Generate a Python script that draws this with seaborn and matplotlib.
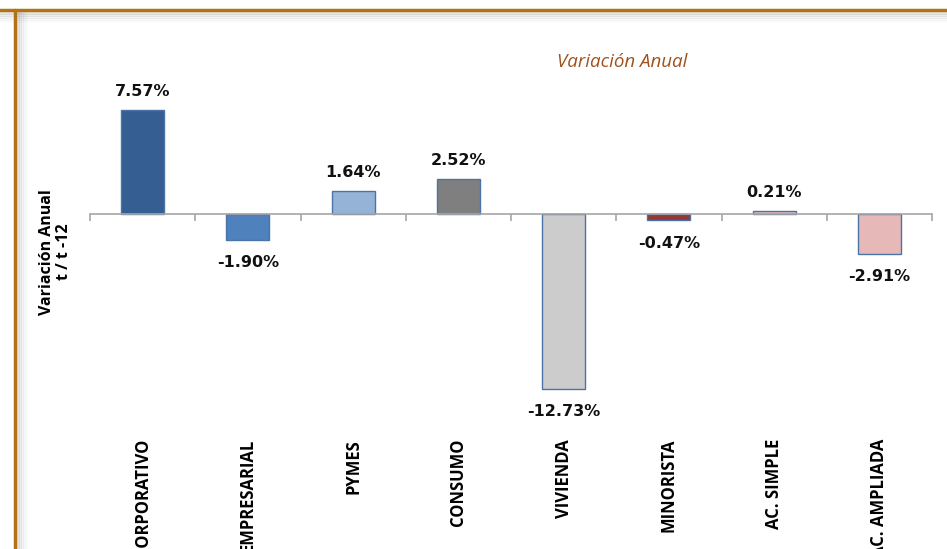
import matplotlib
matplotlib.use("Agg")
import matplotlib.pyplot as plt
from matplotlib.lines import Line2D
import seaborn as sns

# Data
categories = ["CORPORATIVO", "EMPRESARIAL", "PYMES", "CONSUMO",
              "VIVIENDA", "MINORISTA", "AC. SIMPLE", "AC. AMPLIADA"]
values = [7.57, -1.90, 1.64, 2.52, -12.73, -0.47, 0.21, -2.91]
bar_colors = ["#355F92", "#4F81BD", "#95B3D7", "#7F7F7F",
              "#CCCCCC", "#953735", "#E6B9B8", "#E6B9B8"]

sns.set_style("white")
plt.rcParams["font.family"] = ["DejaVu Sans"]
plt.rcParams["text.color"] = "black"
plt.rcParams["axes.labelcolor"] = "black"
plt.rcParams["xtick.labelcolor"] = "black"

fig = plt.figure(figsize=(9.47, 5.49), dpi=100)
ax = fig.add_axes([90 / 947, 129 / 549, 842 / 947, 340 / 549])

sns.barplot(x=categories, y=values, hue=categories, palette=bar_colors,
            legend=False, width=0.41, edgecolor="#4A74A6", linewidth=1.0,
            saturation=1, ax=ax)

ax.set_xlim(-0.5, len(categories) - 0.5)
ax.set_ylim(-15.0, 9.75)

# zero axis with boundary ticks
for s in ["top", "right", "left"]:
    ax.spines[s].set_visible(False)
ax.spines["bottom"].set_position(("data", 0))
ax.spines["bottom"].set_color("#A6A6A6")
ax.spines["bottom"].set_linewidth(1.2)
ax.set_yticks([])
ax.set_xticks(range(len(categories)))
ax.set_xticks([i - 0.5 for i in range(len(categories) + 1)], minor=True)
ax.tick_params(axis="x", which="minor", bottom=True, length=5, width=1.2,
               color="#A6A6A6", direction="out")
ax.tick_params(axis="x", which="major", bottom=True, length=0, pad=162,
               labelcolor="black")
ax.set_xticklabels(categories, rotation=90, fontfamily="Open Sans",
                   fontweight="bold", fontsize=12)
ax.set_xlabel("")

# value labels
for i, v in enumerate(values):
    off = 13.5 if v >= 0 else -16.5
    ax.annotate(f"{v:.2f}%", (i, v), xytext=(0, off), textcoords="offset points",
                ha="center", va="center", fontsize=11.5, fontweight="bold",
                color="#111111")

ax.set_ylabel("Variación Anual\nt / t -12", fontfamily="Open Sans",
              fontweight="bold", fontsize=11.5, linespacing=1.05, color="black")
ax.yaxis.set_label_coords(-18 / 842, (420 - 252) / 340)

fig.text(622 / 947, 1 - 62 / 549, "Variación Anual", ha="center", va="center",
         fontfamily="Open Sans", fontstyle="italic", fontsize=13.5,
         color="#A0521C")

# frame lines with light shadow
border = "#B07412"
for k, a in enumerate([0.10, 0.07, 0.05, 0.03, 0.02]):
    fig.add_artist(Line2D([0, 1], [1 - (13 + k * 2) / 549] * 2, color="black",
                          alpha=a, lw=2, transform=fig.transFigure))
    fig.add_artist(Line2D([(18 + k * 2) / 947] * 2, [0, 1 - 12 / 549], color="black",
                          alpha=a, lw=2, transform=fig.transFigure))
fig.add_artist(Line2D([0, 1], [1 - 10 / 549] * 2, color=border, lw=2.5,
                      transform=fig.transFigure))
fig.add_artist(Line2D([15 / 947] * 2, [0, 1 - 10 / 549], color=border, lw=2.5,
                      transform=fig.transFigure))

fig.savefig("out.png", dpi=100)
